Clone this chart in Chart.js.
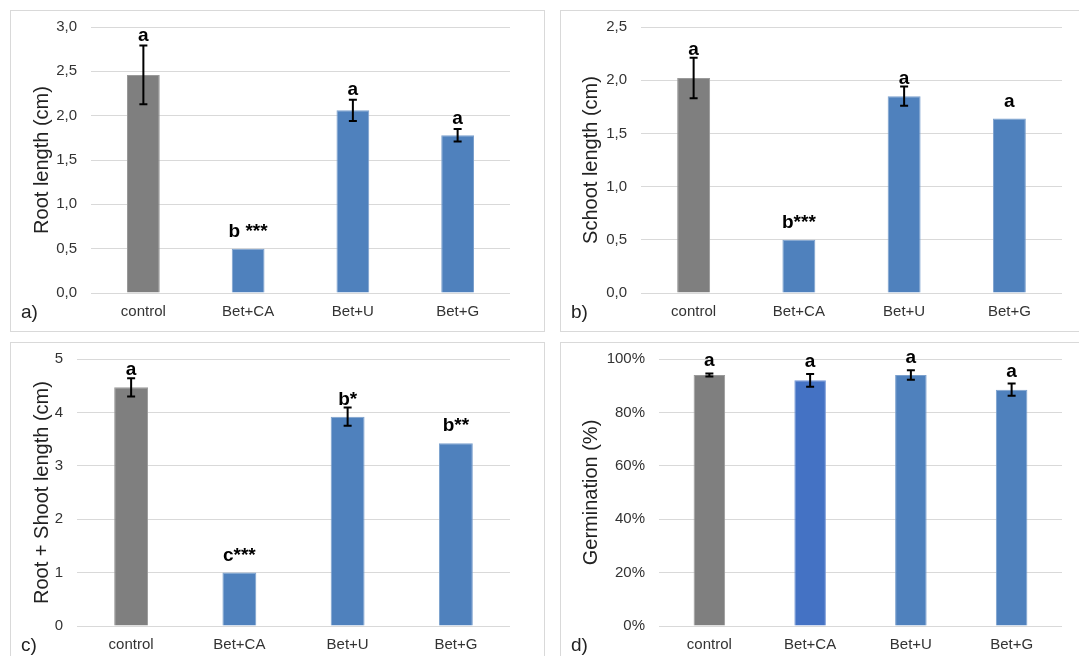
<!DOCTYPE html>
<html>
<head>
<meta charset="utf-8">
<script src="https://cdn.jsdelivr.net/npm/chart.js@4.4.1/dist/chart.umd.min.js"></script>
<style>
  html, body { margin: 0; padding: 0; background: #fff; width: 1079px; height: 656px; overflow: hidden; }
  .box { position: absolute; border: 1px solid #d9d9d9; box-sizing: border-box; }
  .cv { position: absolute; }
</style>
</head>
<body>
<div class="box" style="left:10px;top:10px;width:535px;height:322px"></div>
<div class="box" style="left:560px;top:10px;width:530px;height:322px"></div>
<div class="box" style="left:10px;top:342px;width:535px;height:330px"></div>
<div class="box" style="left:560px;top:342px;width:530px;height:330px"></div>

<canvas id="panelA" class="cv" style="left:10px;top:10px" width="534" height="321"></canvas>
<canvas id="panelB" class="cv" style="left:560px;top:10px" width="519" height="321"></canvas>
<canvas id="panelC" class="cv" style="left:10px;top:342px" width="534" height="314"></canvas>
<canvas id="panelD" class="cv" style="left:560px;top:342px" width="519" height="314"></canvas>

<script>
// Treatments
const categories = ['control', 'Bet+CA', 'Bet+U', 'Bet+G'];

// a) Root length (cm): means, error (±), significance letters
const rootMean = [2.46, 0.50, 2.06, 1.78];
const rootErr = [0.33, 0, 0.12, 0.07];
const rootLetters = ['a', 'b ***', 'a', 'a'];
const rootTicks = ['0,0', '0,5', '1,0', '1,5', '2,0', '2,5', '3,0'];

// b) Shoot length (cm)
const shootMean = [2.02, 0.50, 1.85, 1.64];
const shootErr = [0.19, 0, 0.09, 0];
const shootLetters = ['a', 'b***', 'a', 'a'];
const shootTicks = ['0,0', '0,5', '1,0', '1,5', '2,0', '2,5'];

// c) Root + shoot length (cm)
const totalMean = [4.47, 1.00, 3.92, 3.42];
const totalErr = [0.17, 0, 0.17, 0];
const totalLetters = ['a', 'c***', 'b*', 'b**'];
const totalTicks = ['0', '1', '2', '3', '4', '5'];

// d) Germination (fraction)
const germMean = [0.94, 0.92, 0.94, 0.885];
const germErr = [0.006, 0.024, 0.018, 0.023];
const germLetters = ['a', 'a', 'a', 'a'];
const germTicks = ['0%', '20%', '40%', '60%', '80%', '100%'];

const GRAY = '#7f7f7f', GRAY_EDGE = '#9a9a9a';
const BLUE = '#4f81bd', BLUE_EDGE = '#7ba0cd';
const BLUE2 = '#4472c4', BLUE2_EDGE = '#7396d6';
const FONT = '"Liberation Sans", Arial, sans-serif';

// Error bars, significance letters and panel tag
const annotate = {
  id: 'annotate',
  afterDatasetsDraw(chart, args, opts) {
    const ctx = chart.ctx;
    const meta = chart.getDatasetMeta(0);
    const ys = chart.scales.y;
    const values = chart.data.datasets[0].data;
    ctx.save();
    meta.data.forEach((bar, i) => {
      const v = values[i], e = opts.errors[i];
      let top = bar.y;
      if (e > 0) {
        const yHi = ys.getPixelForValue(v + e);
        const yLo = ys.getPixelForValue(v - e);
        ctx.strokeStyle = '#000';
        ctx.lineWidth = 2;
        ctx.beginPath();
        ctx.moveTo(bar.x, yHi); ctx.lineTo(bar.x, yLo);
        ctx.moveTo(bar.x - 4, yHi); ctx.lineTo(bar.x + 4, yHi);
        ctx.moveTo(bar.x - 4, yLo); ctx.lineTo(bar.x + 4, yLo);
        ctx.stroke();
        top = yHi;
      }
      ctx.fillStyle = '#000';
      ctx.font = 'bold 19px ' + FONT;
      ctx.textAlign = 'center';
      ctx.textBaseline = 'alphabetic';
      ctx.fillText(opts.letters[i], bar.x, top - (e > 0 ? opts.gapErr : opts.gapBar));
    });
    ctx.font = '19px ' + FONT;
    ctx.fillStyle = '#222';
    ctx.textAlign = 'left';
    ctx.textBaseline = 'middle';
    ctx.fillText(opts.tag, 11, chart.chartArea.bottom + 20);
    ctx.restore();
  }
};

function makePanel(id, cfg) {
  new Chart(document.getElementById(id), {
    type: 'bar',
    data: {
      labels: categories,
      datasets: [{
        data: cfg.values,
        backgroundColor: cfg.colors,
        borderColor: cfg.edges,
        borderWidth: 1,
        barPercentage: 1,
        categoryPercentage: 0.313
      }]
    },
    options: {
      responsive: false,
      animation: false,
      devicePixelRatio: 1,
      layout: { padding: { top: 17, right: cfg.padRight, left: 0, bottom: 0 } },
      plugins: {
        legend: { display: false },
        tooltip: { enabled: false },
        annotate: { errors: cfg.errors, letters: cfg.letters, tag: cfg.tag, gapErr: cfg.gapErr, gapBar: 12 }
      },
      scales: {
        x: {
          grid: { display: false, drawTicks: false },
          border: { display: false },
          ticks: { color: '#333', font: { family: FONT, size: 15 }, padding: 10, maxRotation: 0 },
          afterFit(scale) { scale.height = cfg.xHeight; }
        },
        y: {
          min: 0,
          max: cfg.max,
          grid: { color: '#d9d9d9', lineWidth: 1, drawTicks: false },
          border: { display: false },
          ticks: {
            stepSize: cfg.step,
            color: '#333',
            padding: 14,
            font: { family: FONT, size: 15 },
            callback: (val, idx) => cfg.ticks[idx]
          },
          title: {
            display: true,
            text: cfg.title,
            color: '#222',
            font: { family: FONT, size: 20 },
            padding: { top: cfg.titlePad, bottom: 0 }
          },
          afterFit(scale) {
            scale.width = cfg.yWidth;
            scale.paddingTop = 0;
            scale.paddingBottom = 0;
          }
        }
      }
    },
    plugins: [annotate]
  });
}

makePanel('panelA', {
  values: rootMean, errors: rootErr, letters: rootLetters, ticks: rootTicks,
  colors: [GRAY, BLUE, BLUE, BLUE], edges: [GRAY_EDGE, BLUE_EDGE, BLUE_EDGE, BLUE_EDGE],
  max: 3, step: 0.5, title: 'Root length (cm)', tag: 'a)',
  yWidth: 81, xHeight: 38, padRight: 34, titlePad: 20, gapErr: 5
});
makePanel('panelB', {
  values: shootMean, errors: shootErr, letters: shootLetters, ticks: shootTicks,
  colors: [GRAY, BLUE, BLUE, BLUE], edges: [GRAY_EDGE, BLUE_EDGE, BLUE_EDGE, BLUE_EDGE],
  max: 2.5, step: 0.5, title: 'Schoot length (cm)', tag: 'b)',
  yWidth: 81, xHeight: 38, padRight: 17, titlePad: 19, gapErr: 3
});
makePanel('panelC', {
  values: totalMean, errors: totalErr, letters: totalLetters, ticks: totalTicks,
  colors: [GRAY, BLUE, BLUE, BLUE], edges: [GRAY_EDGE, BLUE_EDGE, BLUE_EDGE, BLUE_EDGE],
  max: 5, step: 1, title: 'Root + Shoot length (cm)', tag: 'c)',
  yWidth: 67, xHeight: 30, padRight: 34, titlePad: 20, gapErr: 3
});
makePanel('panelD', {
  values: germMean, errors: germErr, letters: germLetters, ticks: germTicks,
  colors: [GRAY, BLUE2, BLUE, BLUE], edges: [GRAY_EDGE, BLUE2_EDGE, BLUE_EDGE, BLUE_EDGE],
  max: 1, step: 0.2, title: 'Germination (%)', tag: 'd)',
  yWidth: 99, xHeight: 30, padRight: 17, titlePad: 19, gapErr: 7
});
</script>
</body>
</html>
